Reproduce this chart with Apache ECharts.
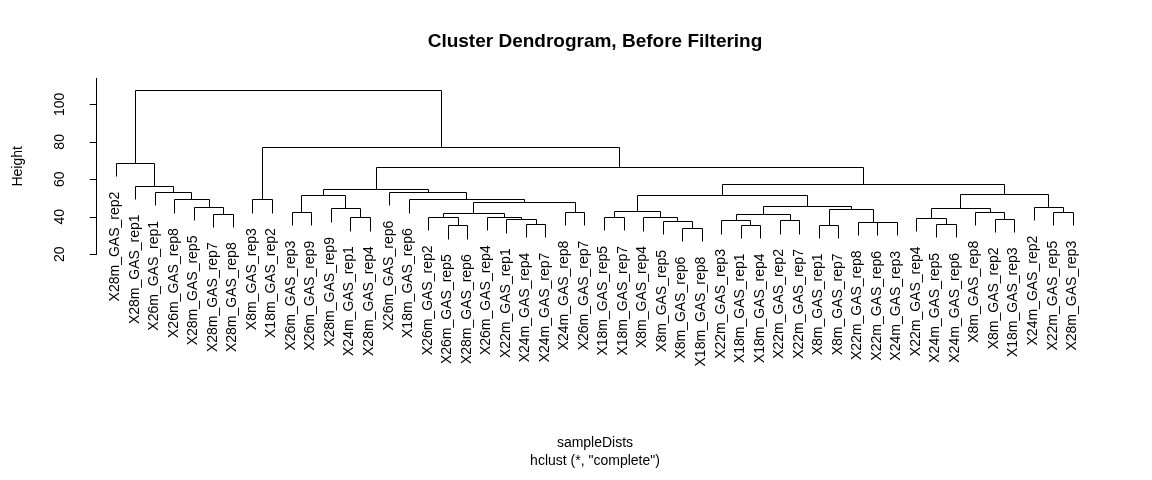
<!DOCTYPE html>
<html><head><meta charset="utf-8">
<script src="https://cdn.jsdelivr.net/npm/echarts@6/dist/echarts.min.js"></script>
<style>html,body{margin:0;padding:0;background:#fff}#c{width:1152px;height:480px}</style>
</head><body><div id="c"></div>
<script>
// ---- data (leaf order as displayed, left to right) ----
const leafLabels = [
  'X28m_GAS_rep2','X28m_GAS_rep1','X26m_GAS_rep1','X26m_GAS_rep8','X28m_GAS_rep5','X28m_GAS_rep7','X28m_GAS_rep8',
  'X8m_GAS_rep3','X18m_GAS_rep2',
  'X26m_GAS_rep3','X26m_GAS_rep9','X28m_GAS_rep9','X24m_GAS_rep1','X28m_GAS_rep4','X26m_GAS_rep6','X18m_GAS_rep6',
  'X26m_GAS_rep2','X26m_GAS_rep5','X28m_GAS_rep6','X26m_GAS_rep4','X22m_GAS_rep1','X24m_GAS_rep4','X24m_GAS_rep7',
  'X24m_GAS_rep8','X26m_GAS_rep7',
  'X18m_GAS_rep5','X18m_GAS_rep7','X8m_GAS_rep4','X8m_GAS_rep5','X8m_GAS_rep6','X18m_GAS_rep8',
  'X22m_GAS_rep3','X18m_GAS_rep1','X18m_GAS_rep4','X22m_GAS_rep2','X22m_GAS_rep7','X8m_GAS_rep1','X8m_GAS_rep7',
  'X22m_GAS_rep8','X22m_GAS_rep6','X24m_GAS_rep3',
  'X22m_GAS_rep4','X24m_GAS_rep5','X24m_GAS_rep6','X8m_GAS_rep8','X8m_GAS_rep2','X18m_GAS_rep3',
  'X24m_GAS_rep2','X22m_GAS_rep5','X28m_GAS_rep3'
];
// merge table (R hclust style): negative = leaf position, positive = earlier merge row
const mergeLeft  = [-6,-5,-4,-3,-2,-1,-8,-10,-13,-12, 8,-18,-17,-22,-21,-20,13,-24,17,-16,-15,11,-26,-30,-29,-28,23,-33,-32,-35,29,-37,-40,-39,32,31,27,-43,-42,-46,-45,39,-49,-48,42,37,22, 7, 6];
const mergeRight = [-7, 1, 2, 3, 4, 5,-9,-11,-14, 9,10,-19, 12,-23, 14, 15,16,-25,18, 19, 20,21,-27,-31, 24, 25,26,-34, 28,-36,30,-38,-41, 33,34,35,36,-44, 38,-47, 40,41,-50, 43,44,45,46,47,48];
const mergeHeight= [41.5,45.1,49.0,52.9,56.4,68.5,49.0,42.3,39.4,44.3,51.3,35.1,39.8,36.0,38.3,39.9,42.0,42.4,47.7,49.0,53.0,54.7,
                    39.6,33.8,37.4,39.5,42.9,35.6,37.9,37.9,41.3,35.6,36.9,37.2,44.0,45.4,51.6,35.8,39.3,38.8,42.3,44.3,42.3,45.0,52.0,57.3,66.2,76.9,107.6];
const yTicks = [20, 40, 60, 80, 100];
const hang = 7.1;
const titleText = 'Cluster Dendrogram, Before Filtering';
const xName = 'sampleDists';
const xSub = 'hclust (*, "complete")';
const yName = 'Height';

// ---- build segments from the merge table ----
const n = leafLabels.length;
const nodeX = [], nodeH = [];
const leafEnd = new Array(n);
const segs = [];
function child(c, h) {
  if (c < 0) { const i = -c; leafEnd[i - 1] = h - hang; return [i, h - hang]; }
  return [nodeX[c - 1], nodeH[c - 1]];
}
for (let k = 0; k < mergeLeft.length; k++) {
  const h = mergeHeight[k];
  const L = child(mergeLeft[k], h), R = child(mergeRight[k], h);
  nodeX.push((L[0] + R[0]) / 2); nodeH.push(h);
  segs.push([L[0], L[1], R[0], R[1], h]);
}
const leafData = leafLabels.map((lab, i) => [i + 1, leafEnd[i], lab]);
const pad = 0.04 * (n - 1);
const FONT = 'Liberation Sans, Arial, Helvetica, sans-serif';
const FS = 14;
const snap = v => Math.round(v - 0.5) + 0.5;

const chart = echarts.init(document.getElementById('c'), null, {renderer: 'canvas'});
chart.setOption({
  backgroundColor: '#fff',
  animation: false,
  title: {
    text: titleText, left: 595, top: 32, textAlign: 'center', padding: 0,
    textStyle: {fontFamily: FONT, fontSize: 19, fontWeight: 'bold', color: '#000'}
  },
  grid: {left: 78, right: 40.5, top: 78.3, bottom: 225.7, containLabel: false},
  xAxis: {type: 'value', min: 1 - pad, max: n + pad, show: false},
  yAxis: {
    type: 'value', min: 20, max: 113.9,
    axisLine: {show: true, lineStyle: {color: '#000', width: 1}},
    axisTick: {show: true, length: 7, lineStyle: {color: '#000'}, customValues: yTicks},
    axisLabel: {show: true, rotate: 90, margin: 11, customValues: yTicks, color: '#000', fontFamily: FONT, fontSize: FS},
    splitLine: {show: false},
    name: yName, nameLocation: 'middle', nameRotate: 90, nameGap: 53,
    nameTextStyle: {color: '#000', fontFamily: FONT, fontSize: FS}
  },
  graphic: [
    {type: 'text', x: 595, y: 443, style: {text: xName, fontFamily: FONT, fontSize: FS, fill: '#000', align: 'center', verticalAlign: 'middle'}},
    {type: 'text', x: 595, y: 461, style: {text: xSub, fontFamily: FONT, fontSize: FS, fill: '#000', align: 'center', verticalAlign: 'middle'}}
  ],
  series: [
    {
      type: 'custom', clip: false, silent: true,
      data: segs,
      encode: {x: [0, 2], y: [1, 3, 4]},
      renderItem: function (params, api) {
        const x1 = api.value(0), y1 = api.value(1), x2 = api.value(2), y2 = api.value(3), h = api.value(4);
        const p = [api.coord([x1, y1]), api.coord([x1, h]), api.coord([x2, h]), api.coord([x2, y2])]
          .map(q => [snap(q[0]), snap(q[1])]);
        return {type: 'polyline', shape: {points: p}, style: {stroke: '#000', lineWidth: 1, fill: null}};
      }
    },
    {
      type: 'custom', clip: false, silent: true,
      data: leafData,
      encode: {x: 0, y: 1},
      renderItem: function (params, api) {
        const pt = api.coord([api.value(0), api.value(1)]);
        return {
          type: 'text', x: pt[0] - 1, y: pt[1] + 15, rotation: Math.PI / 2,
          style: {text: leafData[params.dataIndex][2], fontFamily: FONT, fontSize: FS, fill: '#000', align: 'right', verticalAlign: 'middle'}
        };
      }
    }
  ]
});
</script></body></html>
